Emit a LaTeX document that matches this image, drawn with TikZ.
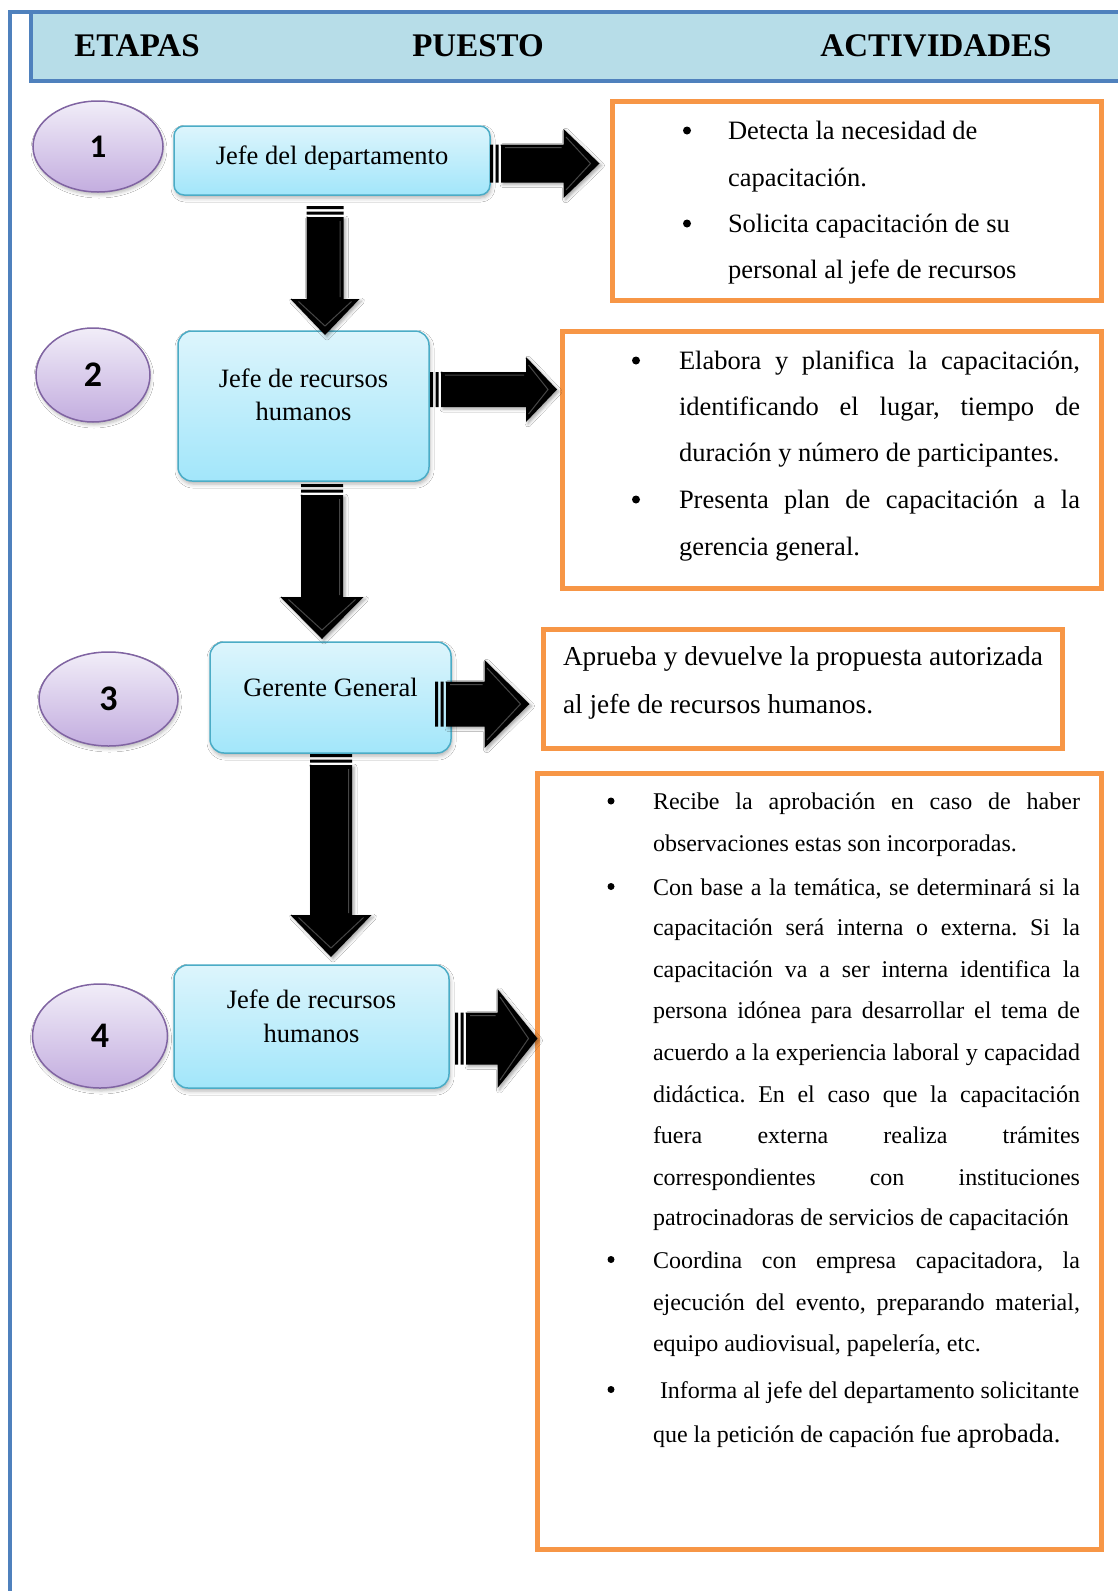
\documentclass[tikz,border=0pt]{standalone}
\usepackage{fontspec}
\setmainfont{Liberation Serif}
\newfontfamily\numfont{Carlito}
\usetikzlibrary{shapes.geometric,calc,shadows.blur}
\frenchspacing
\definecolor{frameblue}{HTML}{4F81BD}
\definecolor{headfill}{HTML}{B7DDE8}
\definecolor{orng}{HTML}{F79646}
\definecolor{boxline}{HTML}{4BACC6}
\definecolor{boxtop}{HTML}{DDF5FC}
\definecolor{boxbot}{HTML}{A2E6FA}
\definecolor{ellline}{HTML}{8064A2}
\definecolor{elltop}{HTML}{F1EDF8}
\definecolor{ellbot}{HTML}{C3ADDF}
\newcommand\fsz[1]{\fontsize{#1}{#1}\selectfont}
\tikzset{
  every node/.style={inner sep=0pt, outer sep=0pt},
  hdr/.style={font=\fsz{33}\bfseries, anchor=base},
  numell/.style={ellipse, draw=ellline, line width=1.5pt, top color=elltop, bottom color=ellbot,
     font=\numfont\bfseries\fsz{36},
     blur shadow={shadow xshift=1pt, shadow yshift=-3pt, shadow opacity=25, shadow blur radius=3pt}},
  proc/.style={rectangle, rounded corners=14pt, draw=boxline, line width=1.5pt, top color=boxtop, bottom color=boxbot,
     blur shadow={shadow xshift=1pt, shadow yshift=-3pt, shadow opacity=30, shadow blur radius=4pt}},
  act/.style={rectangle, draw=orng, line width=5pt, fill=white},
  ptxt/.style={font=\fsz{26.5}, anchor=base},
  atxt/.style={font=\fsz{26.5}, anchor=base west},
  ctxt/.style={font=\fsz{27.3}, anchor=base west},
  btxt/.style={font=\fsz{24}, anchor=base west},
  bul/.style={circle, fill=black, minimum size=8pt},
  bulsm/.style={circle, fill=black, minimum size=7pt},
  arrfill/.style={fill=black,
     blur shadow={shadow xshift=2pt, shadow yshift=-2pt, shadow opacity=35, shadow blur radius=3pt}},
  bevel/.style={draw=black!50, line width=1pt, opacity=0.55},
}
% down block arrow: #1 start, #2 tip, #3 shaft half width, #4 head half width, #5 head length
\newcommand\dnarrow[5]{%
  \fill let \p1=(#1) in (\x1-#3pt,\y1) rectangle (\x1+#3pt,\y1-3pt)
        (\x1-#3pt,\y1-5.5pt) rectangle (\x1+#3pt,\y1-8.5pt);
  \path[arrfill] let \p1=(#1), \p2=(#2) in (\x1-#3pt,\y1-11pt) -- (\x1+#3pt,\y1-11pt)
        -- (\x1+#3pt,\y2+#5pt) -- (\x1+#4pt,\y2+#5pt) -- (\x1,\y2) -- (\x1-#4pt,\y2+#5pt)
        -- (\x1-#3pt,\y2+#5pt) -- cycle;
  \path[bevel] let \p1=(#1), \p2=(#2) in
        (\x1+#3pt-3.5pt,\y1-15pt) -- (\x1+#3pt-3.5pt,\y2+#5pt+2pt)
        (\x1+#4pt-8pt,\y2+#5pt-2.5pt) -- (\x1,\y2+9pt) -- (\x1-#4pt+8pt,\y2+#5pt-2.5pt);
}
% right block arrow
\newcommand\rtarrow[5]{%
  \fill let \p1=(#1) in (\x1,\y1+#3pt) rectangle (\x1+3pt,\y1-#3pt)
        (\x1+5.5pt,\y1+#3pt) rectangle (\x1+8.5pt,\y1-#3pt);
  \path[arrfill] let \p1=(#1), \p2=(#2) in (\x1+11pt,\y1+#3pt) -- (\x2-#5pt,\y1+#3pt)
        -- (\x2-#5pt,\y1+#4pt) -- (\x2,\y1) -- (\x2-#5pt,\y1-#4pt) -- (\x2-#5pt,\y1-#3pt)
        -- (\x1+11pt,\y1-#3pt) -- cycle;
  \path[bevel] let \p1=(#1), \p2=(#2) in
        (\x1+15pt,\y1+#3pt-3pt) -- (\x2-#5pt-2pt,\y1+#3pt-3pt)
        (\x2-#5pt+2.5pt,\y1+#4pt-8pt) -- (\x2-9pt,\y1) -- (\x2-#5pt+2.5pt,\y1-#4pt+8pt);
}
\begin{document}
\begin{tikzpicture}[x=1pt,y=-1pt]
\path[use as bounding box] (0,0) rectangle (1118,1591);
\clip (0,0) rectangle (1118,1591);
\fill[white] (0,0) rectangle (1118,1591);

% header band and frame
\draw[frameblue, line width=4pt, fill=headfill] (31,12) rectangle (1140,81);
\draw[frameblue, line width=4pt] (10,1600) -- (10,12) -- (1140,12);
\node[hdr] (hetapas) at (137,56) {ETAPAS};
\node[hdr] (hpuesto) at (478,56) {PUESTO};
\node[hdr] (hactiv) at (936,56) {ACTIVIDADES};

% stage ellipses
\node[numell, minimum width=130pt, minimum height=91pt] (e1) at (98,146.5) {\fsz{33}1};
\node[numell, minimum width=114pt, minimum height=94pt] (e2) at (93,375) {2};
\node[numell, minimum width=139pt, minimum height=94pt] (e3) at (108.5,699) {3};
\node[numell, minimum width=135pt, minimum height=104pt] (e4) at (100,1036) {4};

% position boxes
\node[proc, rounded corners=10pt, minimum width=316pt, minimum height=69pt] (j1) at (332,160.5) {};
\node[proc, minimum width=251pt, minimum height=150pt] (j2) at (303.5,406) {};
\node[proc, minimum width=241pt, minimum height=111pt] (j3) at (330.5,697.5) {};
\node[proc, minimum width=275pt, minimum height=123pt] (j4) at (311.5,1026.5) {};
\node[ptxt] (j1t) at ($(j1.center)+(0,4)$) {Jefe del departamento};
\node[ptxt] (j2ta) at ($(j2.center)+(0,-18.5)$) {Jefe de recursos};
\node[ptxt] (j2tb) at ($(j2.center)+(0,14.5)$) {humanos};
\node[ptxt] (j3t) at ($(j3.center)+(0,-1)$) {Gerente General};
\node[ptxt] (j4ta) at ($(j4.center)+(0,-18)$) {Jefe de recursos};
\node[ptxt] (j4tb) at ($(j4.center)+(0,16)$) {humanos};

% activity boxes
\node[act, minimum width=489pt, minimum height=199pt] (a1) at (857,201) {};
\node[act, minimum width=539pt, minimum height=257pt] (a2) at (832,460) {};
\node[act, minimum width=519pt, minimum height=119pt] (a3) at (803,689) {};
\node[act, minimum width=564pt, minimum height=776pt] (a4) at (819.5,1161.5) {};

% box 1 text
\node[bul] (a1b1) at (687,130.5) {};
\node[atxt] (a1l1) at (728,139.5) {Detecta la necesidad de};
\node[atxt] (a1l2) at (728,186) {capacitación.};
\node[bul] (a1b2) at (687,223.5) {};
\node[atxt] (a1l3) at (728,232.5) {Solicita capacitación de su};
\node[atxt] (a1l4) at (728,278.5) {personal al jefe de recursos};

% box 2 text
\node[bul] (a2b1) at (636,360.5) {};
\node[atxt] (a2l1) at (679,369.5) {\makebox[401pt][s]{Elabora y planifica la capacitación,}};
\node[atxt] (a2l2) at (679,415.5) {\makebox[401pt][s]{identificando el lugar, tiempo de}};
\node[atxt] (a2l3) at (679,461) {duración y número de participantes.};
\node[bul] (a2b2) at (636,499.5) {};
\node[atxt] (a2l4) at (679,508.5) {\makebox[401pt][s]{Presenta plan de capacitación a la}};
\node[atxt] (a2l5) at (679,555.5) {gerencia general.};

% box 3 text
\node[ctxt] (a3l1) at (563,665) {Aprueba y devuelve la propuesta autorizada};
\node[ctxt] (a3l2) at (563,713) {al jefe de recursos humanos.};

% box 4 text
\node[bulsm] (a4b1) at (611,801) {};
\node[btxt] (a4l1) at (653,809) {\makebox[427pt][s]{Recibe la aprobación en caso de haber}};
\node[btxt] (a4l2) at (653,851) {observaciones estas son incorporadas.};
\node[bulsm] (a4b2) at (611,886.5) {};
\node[btxt] (a4l3) at (653,895) {\makebox[427pt][s]{Con base a la temática, se determinará si la}};
\node[btxt] (a4l4) at (653,935) {\makebox[427pt][s]{capacitación será interna o externa. Si la}};
\node[btxt] (a4l5) at (653,977) {\makebox[427pt][s]{capacitación va a ser interna identifica la}};
\node[btxt] (a4l6) at (653,1018) {\makebox[427pt][s]{persona idónea para desarrollar el tema de}};
\node[btxt] (a4l7) at (653,1060) {\makebox[427pt][s]{acuerdo a la experiencia laboral y capacidad}};
\node[btxt] (a4l8) at (653,1102) {\makebox[427pt][s]{didáctica. En el caso que la capacitación}};
\node[btxt] (a4l9) at (653,1143) {\makebox[427pt][s]{fuera externa realiza trámites}};
\node[btxt] (a4l10) at (653,1185) {\makebox[427pt][s]{correspondientes con instituciones}};
\node[btxt] (a4l11) at (653,1225) {patrocinadoras de servicios de capacitación};
\node[bulsm] (a4b3) at (611,1259.5) {};
\node[btxt] (a4l12) at (653,1268) {\makebox[427pt][s]{Coordina con empresa capacitadora, la}};
\node[btxt] (a4l13) at (653,1310) {\makebox[427pt][s]{ejecución del evento, preparando material,}};
\node[btxt] (a4l14) at (653,1351) {equipo audiovisual, papelería, etc.};
\node[bulsm] (a4b4) at (611,1389.5) {};
\node[btxt] (a4l15) at (660,1398) {Informa al jefe del departamento solicitante};
\node[btxt] (a4l16) at (653,1442) {que la petición de capación fue {\fsz{26.5}aprobada.}};

% connector coordinates
\coordinate (d1s) at ($(j1.south)+(-7,11)$);
\coordinate (d1e) at ($(j2.north)+(21.5,4)$);
\coordinate (d2s) at ($(j2.south)+(18.5,3)$);
\coordinate (d2e) at ($(j3.north)+(-8.5,-3)$);
\coordinate (d3s) at ($(j3.south)+(0.5,1)$);
\coordinate (d3e) at ($(j4.north)+(19.5,-8)$);
\coordinate (r1s) at ($(j1.east)+(0,3)$);
\coordinate (r1e) at ($(a1.west |- r1s)+(-13,0)$);
\coordinate (r2s) at ($(j2.east)+(1,-16.5)$);
\coordinate (r2e) at ($(a2.west |- r2s)+(-5.5,0)$);
\coordinate (r3s) at ($(j3.east)+(-16,6.5)$);
\coordinate (r3e) at ($(a3.west |- r3s)+(-14,0)$);
\coordinate (r4s) at ($(j4.east)+(6,12)$);
\coordinate (r4e) at ($(a4.west |- r4s)+(0,0)$);

% block arrows
\dnarrow{d1s}{d1e}{18.5}{34.5}{36}
\dnarrow{d2s}{d2e}{21}{41.5}{42}
\dnarrow{d3s}{d3e}{21}{40.5}{42}
\rtarrow{r1s}{r1e}{19}{34.5}{36}
\rtarrow{r2s}{r2e}{17.5}{32.5}{31}
\rtarrow{r3s}{r3e}{22.5}{44}{45}
\rtarrow{r4s}{r4e}{26}{49.5}{40}
\end{tikzpicture}
\end{document}
